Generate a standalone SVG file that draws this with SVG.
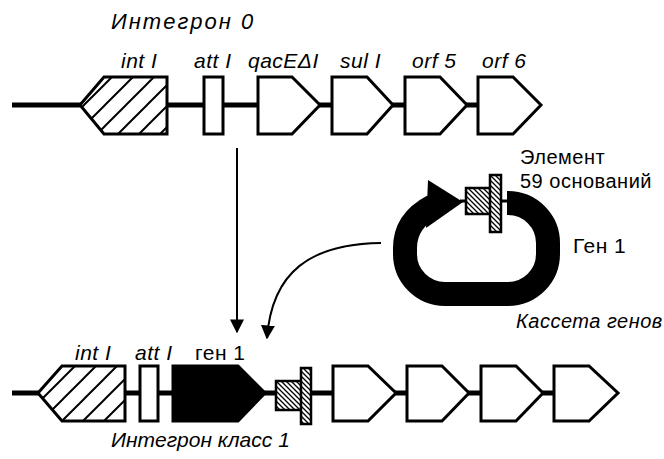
<svg xmlns="http://www.w3.org/2000/svg" width="664" height="459" viewBox="0 0 664 459">
<defs>
<pattern id="hatch" patternUnits="userSpaceOnUse" width="21" height="21">
<rect width="21" height="21" fill="#fff"/>
<path d="M0 21 L21 0 M-5 5 L5 -5 M16 26 L26 16" stroke="#000" stroke-width="2"/>
</pattern>
<pattern id="fine" patternUnits="userSpaceOnUse" width="5" height="5">
<rect width="5" height="5" fill="#fff"/>
<path d="M0 0 L5 5 M-1 4 L1 6 M4 -1 L6 1" stroke="#000" stroke-width="1.3"/>
</pattern>
<marker id="ah" viewBox="0 0 10 10" refX="9" refY="5" markerWidth="14" markerHeight="14" markerUnits="userSpaceOnUse" orient="auto">
<path d="M0 0 L10 5 L0 10 Z" fill="#000"/>
</marker>
</defs>
<style>
text{font-family:"Liberation Sans",Arial,sans-serif;font-size:21px;letter-spacing:0.5px;fill:#000}
.it{font-style:italic}
.sm{font-size:20px}
.g{stroke:#000;stroke-width:3;fill:#fff}
.h{stroke:#000;stroke-width:3;fill:url(#hatch)}
.f{stroke:#000;stroke-width:2.5;fill:url(#fine)}
.bb{stroke:#000;stroke-width:5;fill:none}
</style>

<text class="it" x="111" y="29" style="font-size:22px;letter-spacing:2px">Интегрон 0</text>

<g id="backbone-top"><line class="bb" x1="12" y1="105" x2="480" y2="105"/></g>
<g id="intI-top"><polygon class="h" points="80,105 104,77 167,77 167,134 104,134"/><text class="it" x="121" y="68">int I</text></g>
<g id="attI-top"><rect class="g" x="204" y="77" width="19" height="57"/><text class="it" x="194" y="68">att I</text></g>
<g id="qac"><polygon class="g" points="258,77 292,77 320,105 292,134 258,134"/><text class="it" x="248" y="68">qacEΔI</text></g>
<g id="sul"><polygon class="g" points="332,77 367,77 393,105 367,134 332,134"/><text class="it" x="340" y="68">sul I</text></g>
<g id="orf5"><polygon class="g" points="405,77 440,77 467,105 440,134 405,134"/><text class="it" x="412" y="68">orf 5</text></g>
<g id="orf6"><polygon class="g" points="478,77 513,77 541,105 513,134 478,134"/><text class="it" x="482" y="68">orf 6</text></g>

<g id="cassette">
<path d="M507 203 H508 A40 40 0 0 1 548 243 V254 A40 40 0 0 1 508 294 H445 A40 40 0 0 1 405 254 V248 C405 230 414 216 433 206" stroke="#000" stroke-width="24" fill="none"/>
<polygon points="428,180 463,202 426,228" fill="#000"/>
<line x1="460" y1="201" x2="508" y2="201" stroke="#000" stroke-width="3"/>
<rect class="f" x="466" y="188" width="26" height="26"/>
<rect class="f" x="490" y="175" width="11" height="57"/>
<text class="sm" x="520" y="164">Элемент</text>
<text class="sm" x="520" y="188">59 оснований</text>
<text x="573" y="253">Ген 1</text>
<text class="it sm" x="516" y="328">Кассета генов</text>
</g>

<g id="connectors">
<line x1="237" y1="148" x2="237" y2="332" stroke="#000" stroke-width="2" marker-end="url(#ah)"/>
<path d="M381 243 C310 244 272 272 267 338" stroke="#000" stroke-width="2" fill="none" marker-end="url(#ah)"/>
</g>

<g id="backbone-bottom"><line class="bb" x1="12" y1="393" x2="560" y2="393"/></g>
<g id="intI-bottom"><polygon class="h" points="38,393 62,366 125,366 125,421 62,421"/><text class="it" x="75" y="360">int I</text></g>
<g id="attI-bottom"><rect class="g" x="140" y="366" width="18" height="55"/><text class="it" x="135" y="360">att I</text></g>
<g id="gen1"><polygon points="173,366 238,366 265,393 238,421 173,421" fill="#000" stroke="#000" stroke-width="3"/><text x="195" y="360">ген 1</text></g>
<g id="element-bottom">
<rect class="f" x="276" y="381" width="26" height="29"/>
<rect class="f" x="301" y="368" width="10" height="56"/>
</g>
<g id="p1"><polygon class="g" points="333,366 368,366 396,393 368,421 333,421"/></g>
<g id="p2"><polygon class="g" points="407,366 442,366 469,393 442,421 407,421"/></g>
<g id="p3"><polygon class="g" points="481,366 516,366 543,393 516,421 481,421"/></g>
<g id="p4"><polygon class="g" points="554,366 589,366 618,393 589,421 554,421"/></g>
<text class="it" x="111" y="447" style="letter-spacing:0">Интегрон класс 1</text>
</svg>
